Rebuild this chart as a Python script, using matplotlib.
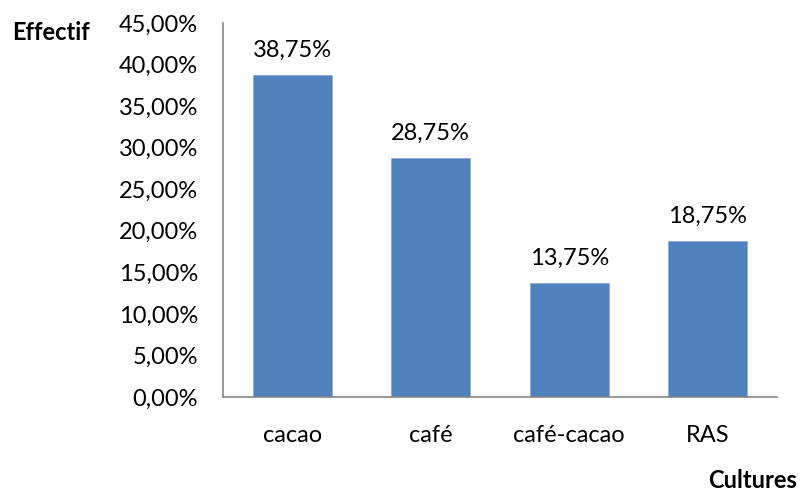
import matplotlib
matplotlib.use("Agg")
import matplotlib.pyplot as plt
from matplotlib.ticker import FuncFormatter

cultures = ["cacao", "café", "café-cacao", "RAS"]
effectif = [38.75, 28.75, 13.75, 18.75]
y_ticks = [0, 5, 10, 15, 20, 25, 30, 35, 40, 45]

plt.rcParams['font.family'] = ['Lato', 'DejaVu Sans']

def pct(v):
    return ("%.2f%%" % v).replace(".", ",")

fig = plt.figure(figsize=(8, 4.98), dpi=100)
ax = fig.add_axes([223 / 800, 1 - 397 / 498, (777 - 223) / 800, (397 - 23) / 498])

x = range(len(cultures))
ax.bar(x, effectif, width=0.57, color='#4F81BD', edgecolor='#8EAADB', lw=0.6)

for i, v in enumerate(effectif):
    ax.annotate(pct(v), (i, v), xytext=(0, 10), textcoords='offset points',
                ha='center', va='bottom', fontsize=17)

ax.set_xlim(-0.5, len(cultures) - 0.5)
ax.set_ylim(0, 45)
ax.set_yticks(y_ticks)
ax.yaxis.set_major_formatter(FuncFormatter(lambda v, p: pct(v)))
ax.set_xticks(list(x))
ax.set_xticklabels(cultures)
ax.tick_params(axis='y', length=0, pad=18, labelsize=17)
ax.tick_params(axis='x', length=0, pad=20, labelsize=17)

for s in ['top', 'right']:
    ax.spines[s].set_visible(False)
for s in ['left', 'bottom']:
    ax.spines[s].set_color('#868686')
    ax.spines[s].set_linewidth(1.2)

fig.text(0.015, 1 - 33 / 498, "Effectif", fontsize=17, fontweight='bold', va='center', ha='left')
fig.text(0.996, 1 - 480 / 498, "Cultures", fontsize=17, fontweight='bold', va='center', ha='right')

fig.savefig("out.png", dpi=100)
